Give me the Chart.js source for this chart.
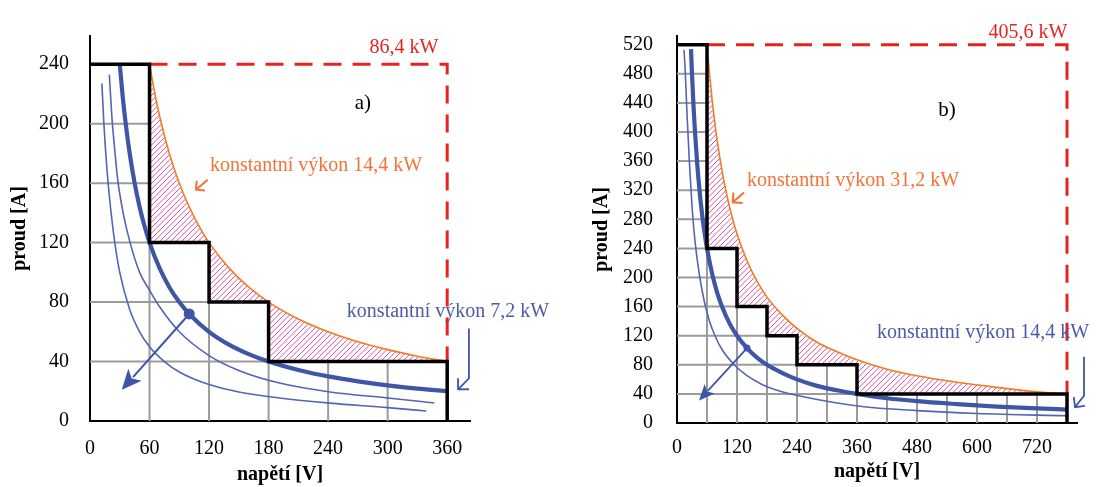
<!DOCTYPE html>
<html>
<head>
<meta charset="utf-8">
<script src="https://cdn.jsdelivr.net/npm/chart.js@4.4.1/dist/chart.umd.min.js"></script>
<style>
  html, body { margin: 0; padding: 0; background: #fff; }
  #wrap { position: relative; width: 1100px; height: 487px; }
  #cA { position: absolute; left: 0; top: 0; }
  #cB { position: absolute; left: 590px; top: 0; }
</style>
</head>
<body>
<div id="wrap">
  <canvas id="cA" width="590" height="487"></canvas>
  <canvas id="cB" width="510" height="487"></canvas>
</div>
<script>
// ---------- panel a) ----------
const stairsA = [[0,240],[60,240],[60,120],[120,120],[120,80],[180,80],[180,40],[360,40],[360,0]];
const limitA = [[60,240],[360,240],[360,40]];
const power14A = [[60,240],[66,218],[72,200],[80,180],[90,160],[100,144],[110,131],[120,120],[140,103],[160,90],
  [180,80],[210,68.6],[240,60],[270,53.3],[300,48],[330,43.6],[360,40]];
const power7A = [[30,240],[33,218],[36,200],[40,180],[45,160],[50,144],[55,131],[60,120],[70,103],[80,90],[90,80],
  [100,72],[120,60],[140,51.4],[160,45],[180,40],[210,34.3],[240,30],[270,26.7],[300,24],[330,21.8],[361,20]];
const lowerA1 = [[19.5,233],[22,205],[25,182],[28,162],[34,138],[40,121],[50,100],[60,88],[70,77],[90,60],
  [120,44],[150,34],[191,25.5],[242,19.5],[300,15.5],[347,12.1]];
const lowerA2 = [[12,227],[14,200],[17,170],[20,148],[25,120],[30,100],[40,75],[50,60],[60,50],[75,40],[90,33],
  [120,24.5],[150,19.5],[191,15.5],[242,12],[300,9],[339,6.7]];
const pointA = [[100,72]];
const arrowA = [[100,72],[32,21]];
const xTicksA = [0,60,120,180,240,300,360];
const yTicksA = [0,40,80,120,160,200,240];
const gridXA = [60,120,180,240,300];
const gridYA = [40,80,120,160,200];

// ---------- panel b) ----------
const stairsB = [[0,520],[60,520],[60,240],[120,240],[120,160],[180,160],[180,120],[240,120],[240,80],[360,80],
  [360,40],[780,40],[780,0]];
const limitB = [[60,520],[780,520],[780,40]];
const power31B = [[60,520],[63,495],[66,473],[70,446],[75,416],[80,390],[90,347],[100,312],[110,284],[120,260],
  [140,223],[160,195],[180,173],[210,149],[240,130],[280,111],[320,98],[360,87],[420,74],[480,65],[560,56],
  [640,49],[720,43],[780,40]];
const power14B = [[28,514],[30,480],[33,436],[36,400],[40,360],[45,320],[50,288],[55,262],[60,240],[70,206],
  [80,180],[90,160],[105,137],[120,120],[140,103],[160,90],[180,80],[210,69],[240,60],[280,51],[320,45],
  [360,40],[420,34],[480,30],[560,26],[640,22.5],[720,20],[780,18.5]];
const lowerB = [[14,513],[16.7,480],[20,425],[24.7,360],[30,298],[36,250],[44.7,204],[55,166],[65,140],[76,120],
  [90,101],[116,79],[140,65],[170,53],[200,45],[260,35],[366,23],[480,17],[600,13],[780,10]];
const pointB = [[140,103]];
const arrowB = [[140,103],[44,31]];
const xTicksB = [0,120,240,360,480,600,720];
const yTicksB = [0,40,80,120,160,200,240,280,320,360,400,440,480,520];
const gridXB = [60,120,180,240,300,360,420,480,540,600,660,720];
const gridYB = [40,80,120,160,200,240,280,320,360,400,440,480];

const RED = '#e52421', ORANGE = '#f47b20', ORANGE_TXT = '#f37336';
const BLUE = '#3f55a5', BLUE_THIN = '#5564b3', BLUE_TXT = '#4c5ba9';
const HATCH = '#dc52a6';
const SERIF = "'Liberation Serif', 'Times New Roman', serif";

Chart.defaults.font.family = SERIF;
Chart.defaults.color = '#000';

const toXY = arr => arr.map(p => ({x: p[0], y: p[1]}));

function px(chart, p) {
  return [chart.scales.x.getPixelForValue(p[0]), chart.scales.y.getPixelForValue(p[1])];
}

function openHead(ctx, tip, from, arm) {
  const a = Math.atan2(from[1] - tip[1], from[0] - tip[0]);
  ctx.moveTo(tip[0] + arm * Math.cos(a + Math.PI / 4), tip[1] + arm * Math.sin(a + Math.PI / 4));
  ctx.lineTo(tip[0], tip[1]);
  ctx.lineTo(tip[0] + arm * Math.cos(a - Math.PI / 4), tip[1] + arm * Math.sin(a - Math.PI / 4));
}

const decor = {
  id: 'decor',
  beforeDatasetsDraw(chart, args, o) {
    const ctx = chart.ctx, xs = chart.scales.x, ys = chart.scales.y;
    const area = chart.chartArea;
    const stairs = o.stairs.map(p => px(chart, p));

    // grid only inside the staircase
    ctx.save();
    ctx.beginPath();
    stairs.forEach((p, i) => i ? ctx.lineTo(p[0], p[1]) : ctx.moveTo(p[0], p[1]));
    ctx.lineTo(xs.getPixelForValue(0), ys.getPixelForValue(0));
    ctx.closePath();
    ctx.clip();
    ctx.strokeStyle = '#9b9b9b';
    ctx.lineWidth = 2;
    ctx.beginPath();
    o.gridX.forEach(v => {
      const x = xs.getPixelForValue(v);
      ctx.moveTo(x, ys.bottom); ctx.lineTo(x, ys.top);
    });
    o.gridY.forEach(v => {
      const y = ys.getPixelForValue(v);
      ctx.moveTo(xs.left, y); ctx.lineTo(xs.right, y);
    });
    ctx.stroke();
    ctx.restore();

    // hatched area between the power curve and the staircase
    const meta = chart.getDatasetMeta(o.hatchIndex);
    const line = meta.dataset;
    ctx.save();
    ctx.beginPath();
    if (line && typeof line.path === 'function') {
      line.updateControlPoints(area, 'x');
      line.path(ctx);
    } else {
      meta.data.forEach((pt, i) => i ? ctx.lineTo(pt.x, pt.y) : ctx.moveTo(pt.x, pt.y));
    }
    stairs.slice(1, -1).reverse().forEach(p => ctx.lineTo(p[0], p[1]));
    ctx.closePath();
    ctx.clip();
    ctx.strokeStyle = HATCH;
    ctx.lineWidth = 1;
    ctx.beginPath();
    const h = area.bottom - area.top;
    for (let k = area.left - h; k < area.right; k += 5.5) {
      ctx.moveTo(k, area.bottom);
      ctx.lineTo(k + h, area.top);
    }
    ctx.stroke();
    ctx.restore();
  },
  afterDatasetsDraw(chart, args, o) {
    const ctx = chart.ctx;
    const a = o.arrow;
    const p1 = px(chart, a.pts[0]), p2 = px(chart, a.pts[1]);
    const ang = Math.atan2(p2[1] - p1[1], p2[0] - p1[0]);
    const bx = p2[0] - a.head * Math.cos(ang), by = p2[1] - a.head * Math.sin(ang);
    ctx.save();
    ctx.strokeStyle = a.color;
    ctx.fillStyle = a.color;
    ctx.lineWidth = a.width;
    ctx.beginPath();
    ctx.moveTo(p1[0], p1[1]);
    ctx.lineTo(bx + 3 * Math.cos(ang), by + 3 * Math.sin(ang));
    ctx.stroke();
    const nx = -Math.sin(ang), ny = Math.cos(ang);
    ctx.beginPath();
    ctx.moveTo(p2[0], p2[1]);
    ctx.lineTo(bx + nx * a.half, by + ny * a.half);
    ctx.lineTo(bx + 0.25 * a.head * Math.cos(ang), by + 0.25 * a.head * Math.sin(ang));
    ctx.lineTo(bx - nx * a.half, by - ny * a.half);
    ctx.closePath();
    ctx.fill();
    ctx.restore();
  },
  afterDraw(chart, args, o) {
    const ctx = chart.ctx;
    ctx.save();
    o.pointers.forEach(s => {
      const pts = s.pts.map(p => px(chart, p));
      ctx.strokeStyle = s.color;
      ctx.lineWidth = s.width;
      ctx.beginPath();
      pts.forEach((p, i) => i ? ctx.lineTo(p[0], p[1]) : ctx.moveTo(p[0], p[1]));
      openHead(ctx, pts[pts.length - 1], pts[pts.length - 2], s.arm);
      ctx.stroke();
    });
    o.notes.forEach(n => {
      const p = px(chart, n.at);
      ctx.font = n.size + 'px ' + SERIF;
      ctx.fillStyle = n.color;
      ctx.textAlign = n.align;
      ctx.textBaseline = 'middle';
      ctx.fillText(n.text, p[0], p[1]);
    });
    ctx.restore();
  }
};

function curve(data, color, width) {
  return {
    data: toXY(data), showLine: true, borderColor: color, borderWidth: width,
    pointRadius: 0, fill: false, cubicInterpolationMode: 'monotone'
  };
}

function makeChart(id, p) {
  return new Chart(document.getElementById(id), {
    type: 'scatter',
    data: {
      datasets: [
        { data: toXY(p.stairs), showLine: true, borderColor: '#000', borderWidth: 3.5, pointRadius: 0, tension: 0,
          borderJoinStyle: 'miter', borderCapStyle: 'butt' },
        { data: toXY(p.point), pointRadius: p.dot, pointBackgroundColor: BLUE, pointBorderWidth: 0 },
        curve(p.thick, BLUE, 4.2),
        curve(p.power, ORANGE, 1.6),
        { data: toXY(p.limit), showLine: true, borderColor: RED, borderWidth: 3, borderDash: [18, 11],
          pointRadius: 0, tension: 0 },
        ...p.thin.map(t => curve(t, BLUE_THIN, 1.6))
      ]
    },
    options: {
      responsive: false,
      animation: false,
      devicePixelRatio: 1,
      layout: { padding: { left: 0, top: p.top, right: p.right, bottom: 0 } },
      plugins: {
        legend: { display: false },
        tooltip: { enabled: false },
        decor: {
          stairs: p.stairs, gridX: p.gridX, gridY: p.gridY, hatchIndex: 3,
          arrow: p.arrow, pointers: p.pointers, notes: p.notes
        }
      },
      scales: {
        x: {
          type: 'linear', min: 0, max: p.xMax,
          afterBuildTicks: s => { s.ticks = p.xTicks.map(v => ({ value: v })); },
          afterFit: s => { s.height = p.xH; },
          grid: { display: false, drawTicks: false },
          border: { display: true, color: '#000', width: 2 },
          ticks: { color: '#000', font: { size: 20 }, padding: p.xPad, maxRotation: 0, autoSkip: false },
          title: { display: true, text: 'napětí [V]', color: '#000', font: { size: 20, weight: 'bold' },
            padding: { top: 0, bottom: p.xTitlePad } }
        },
        y: {
          type: 'linear', min: 0, max: p.yMax,
          afterBuildTicks: s => { s.ticks = p.yTicks.map(v => ({ value: v })); },
          afterFit: s => { s.width = p.yW; },
          grid: { display: false, drawTicks: false },
          border: { display: true, color: '#000', width: 2 },
          ticks: { color: '#000', font: { size: 20 }, padding: p.yPad, autoSkip: false },
          title: { display: true, text: 'proud [A]', color: '#000', font: { size: 20, weight: 'bold' },
            padding: { top: p.yTitlePad, bottom: 0 } }
        }
      }
    },
    plugins: [decor]
  });
}

makeChart('cA', {
  stairs: stairsA, limit: limitA, power: power14A, thick: power7A, thin: [lowerA1, lowerA2],
  point: pointA, dot: 5.5,
  xTicks: xTicksA, yTicks: yTicksA, gridX: gridXA, gridY: gridYA,
  xMax: 383, yMax: 259, top: 36, right: 120, xH: 66, yW: 90,
  xPad: 16, yPad: 21, xTitlePad: 0, yTitlePad: 8,
  arrow: { pts: arrowA, color: BLUE, width: 2, head: 20, half: 9 },
  pointers: [
    { pts: [[118.6,162.3],[106.8,155.6]], color: ORANGE_TXT, width: 2, arm: 9 },
    { pts: [[381.9,62.3],[381.9,28.7],[371,21.3]], color: BLUE, width: 1.8, arm: 11 }
  ],
  notes: [
    { text: '86,4 kW', at: [316.4,250.8], color: RED, align: 'center', size: 20 },
    { text: 'a)', at: [275,213.8], color: '#000', align: 'center', size: 21 },
    { text: 'konstantní výkon 14,4 kW', at: [120.9,171.4], color: ORANGE_TXT, align: 'left', size: 20 },
    { text: 'konstantní výkon 7,2 kW', at: [258.9,73.3], color: BLUE_TXT, align: 'left', size: 20 }
  ]
});

makeChart('cB', {
  stairs: stairsB, limit: limitB, power: power31B, thick: power14B, thin: [lowerB],
  point: pointB, dot: 3.5,
  xTicks: xTicksB, yTicks: yTicksB, gridX: gridXB, gridY: gridYB,
  xMax: 800, yMax: 532, top: 26, right: 23, xH: 64, yW: 87,
  xPad: 13, yPad: 24, xTitlePad: 3, yTitlePad: 0,
  arrow: { pts: arrowB, color: BLUE, width: 1.8, head: 16, half: 7 },
  pointers: [
    { pts: [[134,316.8],[111.4,303.4]], color: ORANGE_TXT, width: 2, arm: 10 },
    { pts: [[814,91.2],[814,37.5],[796,21.8]], color: BLUE, width: 1.8, arm: 10 }
  ],
  notes: [
    { text: '405,6 kW', at: [702,536], color: RED, align: 'center', size: 20 },
    { text: 'b)', at: [540,430], color: '#000', align: 'center', size: 21 },
    { text: 'konstantní výkon 31,2 kW', at: [140,332.4], color: ORANGE_TXT, align: 'left', size: 20 },
    { text: 'konstantní výkon 14,4 kW', at: [400,124.7], color: BLUE_TXT, align: 'left', size: 20 }
  ]
});
</script>
</body>
</html>
